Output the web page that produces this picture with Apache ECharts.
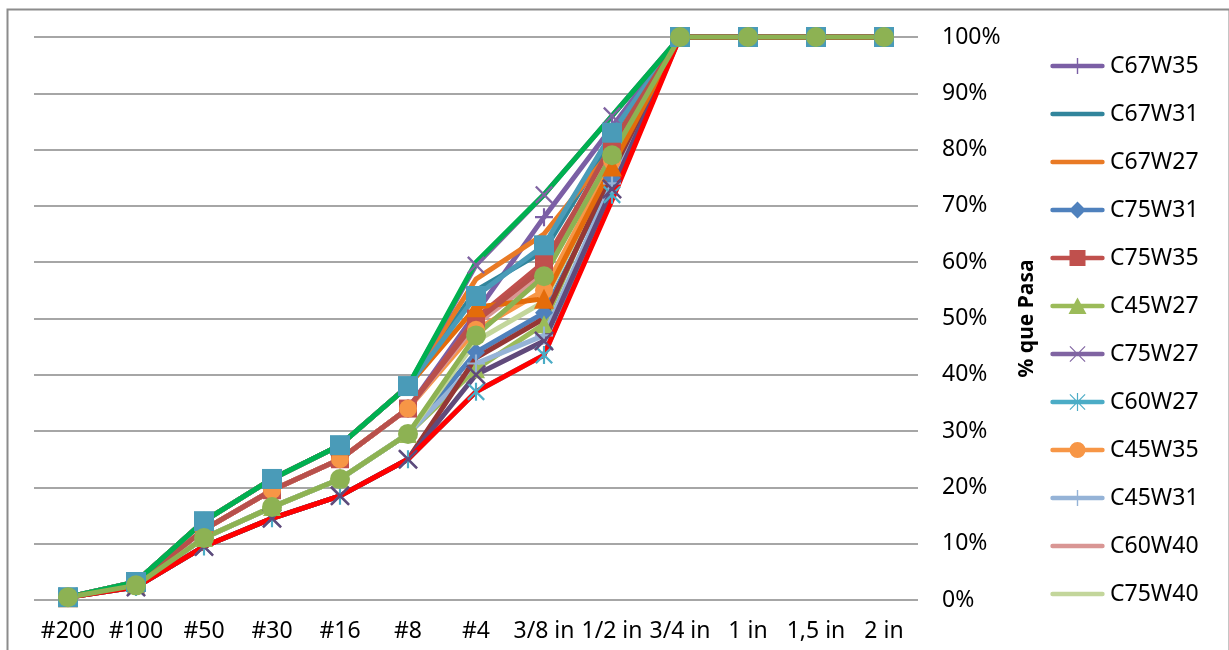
<!DOCTYPE html>
<html>
<head>
<meta charset="utf-8">
<script src="https://cdn.jsdelivr.net/npm/echarts@6/dist/echarts.min.js"></script>
<style>
html,body{margin:0;padding:0;background:#fff;}
#chart{width:1229px;height:650px;}
</style>
</head>
<body>
<div id="chart"></div>
<script>
// Categories (sieve sizes)
var categories = ['#200','#100','#50','#30','#16','#8','#4','3/8 in','1/2 in','3/4 in','1 in','1,5 in','2 in'];
// Y tick labels: 0% .. 100% step 10

// Legend series (% passing)
var C67W35 = [0.5, 2.9, 12.5, 19.5, 25, 34, 51, 68, 84, 100, 100, 100, 100];
var C67W31 = [0.5, 3.2, 14, 21.5, 27.5, 38, 55, 62, 82, 100, 100, 100, 100];
var C67W27 = [0.5, 3.2, 14, 21.5, 27.5, 38, 57, 65, 80, 100, 100, 100, 100];
var C75W31 = [0.5, 2.6, 11, 16.5, 21.5, 29.5, 44, 51, 75, 100, 100, 100, 100];
var C75W35 = [0.5, 2.9, 12.5, 19.5, 25, 34, 50, 60, 80, 100, 100, 100, 100];
var C45W27 = [0.5, 2.6, 11, 16.5, 21.5, 29.5, 41, 49, 77, 100, 100, 100, 100];
var C75W27 = [0.5, 3.2, 14, 21.5, 27.5, 38, 59.5, 72, 86, 100, 100, 100, 100];
var C60W27 = [0.5, 2.3, 9.5, 14.5, 18.5, 25, 37, 43.5, 72, 100, 100, 100, 100];
var C45W35 = [0.5, 2.9, 12.5, 19.5, 25, 34, 48, 55, 78, 100, 100, 100, 100];
var C45W31 = [0.5, 2.6, 11, 16.5, 21.5, 29.5, 42, 47, 74, 100, 100, 100, 100];
var C60W40 = [0.5, 2.9, 12.5, 19.5, 25, 34, 49, 58, 81, 100, 100, 100, 100];
var C75W40 = [0.5, 2.6, 11, 16.5, 21.5, 29.5, 46, 53, 77, 100, 100, 100, 100];
// Additional series drawn in the plot but not shown in the legend
var S13 = [0.5, 2.3, 9.5, 14.5, 18.5, 25, 43, 50, 76, 100, 100, 100, 100];
var S14 = [0.5, 2.3, 9.5, 14.5, 18.5, 25, 40, 46, 73, 100, 100, 100, 100];
var S15 = [0.5, 3.2, 14, 21.5, 27.5, 38, 52, 53.5, 77, 100, 100, 100, 100];
var S16 = [0.5, 3.2, 14, 21.5, 27.5, 38, 54, 63, 83, 100, 100, 100, 100];
var S17 = [0.5, 2.9, 12.5, 19.5, 25, 34, 49.5, 59, 81, 100, 100, 100, 100];
var S18 = [0.5, 3.2, 14, 21.5, 27.5, 38, 60, 72, 86, 100, 100, 100, 100];
var S19 = [0.5, 2.3, 9.5, 14.5, 18.5, 25, 37, 43.5, 71, 100, 100, 100, 100];
var S20 = [0.5, 2.6, 11, 16.5, 21.5, 29.5, 47, 57.5, 79, 100, 100, 100, 100];

var legendNames = ['C67W35','C67W31','C67W27','C75W31','C75W35','C45W27','C75W27','C60W27','C45W35','C45W31','C60W40','C75W40'];

// marker symbols (10x10 box, with corner anchors so the box is kept)
var BOX10 = ' M0,0h0.01v0.01h-0.01Z M9.99,9.99h0.01v0.01h-0.01Z';
var PLUS = 'path://M4.4,0H5.6V10H4.4Z M0,4.4H10V5.6H0Z';
var VBAR = 'path://M4.3,0H5.7V10H4.3Z M0,4.3H10V5.7H0Z';
var CROSS = 'path://M0,0.9L0.9,0L10,9.1L9.1,10Z M9.1,0L10,0.9L0.9,10L0,9.1Z';
var STAR = 'path://M0,0.9L0.9,0L10,9.1L9.1,10Z M9.1,0L10,0.9L0.9,10L0,9.1Z M4.4,0H5.6V10H4.4Z';

// legend icons (55x18 box)
var ANCH = ' M0,0h0.01v0.01h-0.01Z M54.99,17.99h0.01v0.01h-0.01Z';
var LINE = 'M2.5,6.8H52.5A2.2,2.2 0 0 1 52.5,11.2H2.5A2.2,2.2 0 0 1 2.5,6.8Z';
var icons = {
  none: 'path://' + LINE + ANCH,
  vbar: 'path://' + LINE + ' M26.8,1H28.2V17H26.8Z' + ANCH,
  diamond: 'path://' + LINE + ' M27.5,0.5L36,9L27.5,17.5L19,9Z' + ANCH,
  rect: 'path://' + LINE + ' M19.5,1H35.5V17H19.5Z' + ANCH,
  triangle: 'path://' + LINE + ' M27.5,0.5L36.5,17H18.5Z' + ANCH,
  cross: 'path://' + LINE + ' M19.5,1.8L20.3,1L35.5,16.2L34.7,17Z M34.7,1L35.5,1.8L20.3,17L19.5,16.2Z' + ANCH,
  star: 'path://' + LINE + ' M19.5,1.8L20.3,1L35.5,16.2L34.7,17Z M34.7,1L35.5,1.8L20.3,17L19.5,16.2Z M26.9,0H28.1V18H26.9Z' + ANCH,
  circle: 'path://' + LINE + ' M19.5,9A8,8 0 1 1 35.5,9A8,8 0 1 1 19.5,9Z' + ANCH
};
var legendIcons = ['vbar','none','none','diamond','rect','triangle','cross','star','circle','vbar','none','none'];

function mk(name, data, color, symbol, size) {
  return {
    name: name, type: 'line', data: data,
    symbol: symbol || 'none', symbolSize: size || 16,
    showSymbol: !!symbol,
    lineStyle: {color: color, width: 5},
    itemStyle: {color: color},
    emphasis: {disabled: true}
  };
}

var series = [
  mk('C67W35', C67W35, '#7B5FA5', PLUS, 18),
  mk('C67W31', C67W31, '#31859C'),
  mk('C67W27', C67W27, '#E97A25'),
  mk('C75W31', C75W31, '#4F81BD', 'diamond', 18),
  mk('C75W35', C75W35, '#C0504D', 'rect', 18),
  mk('C45W27', C45W27, '#9BBB59', 'triangle', 18),
  mk('C75W27', C75W27, '#8064A2', CROSS, 18),
  mk('C60W27', C60W27, '#4BACC6', STAR, 18),
  mk('C45W35', C45W35, '#F79646', 'circle', 18),
  mk('C45W31', C45W31, '#95B3D7', PLUS, 18),
  mk('C60W40', C60W40, '#D99694'),
  mk('C75W40', C75W40, '#C3D69B'),
  mk('S13', S13, '#953735'),
  mk('S14', S14, '#604A7B', CROSS, 20),
  mk('S15', S15, '#E46C0A', 'triangle', 20),
  mk('S16', S16, '#4A9BB8', 'rect', 20),
  mk('S17', S17, '#B8504B'),
  mk('S18', S18, '#00B050'),
  mk('S19', S19, '#FF0000'),
  mk('S20', S20, '#8DB253', 'circle', 20)
];

var legendData = legendNames.map(function (n, i) {
  return {name: n, icon: icons[legendIcons[i]]};
});

var chart = echarts.init(document.getElementById('chart'));
chart.setOption({
  animation: false,
  backgroundColor: '#ffffff',
  graphic: [{
    type: 'rect', left: 5, top: 7, z: -10,
    shape: {x: 0, y: 0, width: 1222, height: 660},
    style: {fill: 'none', stroke: '#8c8c8c', lineWidth: 2}
  }],
  grid: {left: 34, right: 311, top: 37, bottom: 50, containLabel: false},
  legend: {
    data: legendData,
    orient: 'vertical',
    left: 1050, top: 54, padding: 0,
    itemWidth: 55, itemHeight: 18,
    itemGap: 24,
    textStyle: {fontFamily: 'Noto Sans', fontSize: 23, color: '#000', lineHeight: 24},
    selectedMode: false
  },
  xAxis: {
    type: 'category', data: categories, boundaryGap: true,
    axisLine: {show: false}, axisTick: {show: false},
    axisLabel: {interval: 0, margin: 20, fontFamily: 'Noto Sans', fontSize: 23, color: '#000'},
    splitLine: {show: false}
  },
  yAxis: {
    type: 'value', position: 'right', min: 0, max: 100, interval: 10,
    name: '% que Pasa', nameLocation: 'middle', nameRotate: 90, nameGap: 99,
    nameTextStyle: {fontFamily: 'Noto Sans', fontSize: 21, fontWeight: 'bold', color: '#000'},
    axisLine: {show: false}, axisTick: {show: false},
    axisLabel: {formatter: '{value}%', margin: 24, fontFamily: 'Noto Sans', fontSize: 23, color: '#000', align: 'left'},
    splitLine: {lineStyle: {color: '#a6a6a6', width: 2}}
  },
  series: series
});
</script>
</body>
</html>
